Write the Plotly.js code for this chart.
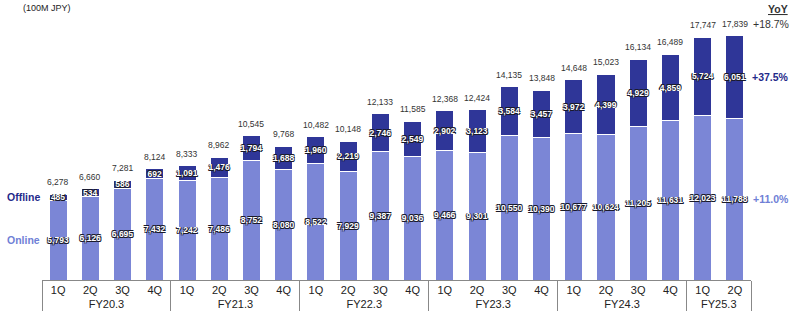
<!DOCTYPE html>
<html>
<head>
<meta charset="utf-8">
<script src="https://cdn.plot.ly/plotly-3.0.1.min.js"></script>
<style>html,body{margin:0;padding:0;background:#fff;}#chart{width:800px;height:325px;}</style>
</head>
<body>
<div id="chart"></div>
<script>
const fiscalYears = ["FY20.3","FY20.3","FY20.3","FY20.3","FY21.3","FY21.3","FY21.3","FY21.3","FY22.3","FY22.3","FY22.3","FY22.3","FY23.3","FY23.3","FY23.3","FY23.3","FY24.3","FY24.3","FY24.3","FY24.3","FY25.3","FY25.3"];
const quarters = ["1Q","2Q","3Q","4Q","1Q","2Q","3Q","4Q","1Q","2Q","3Q","4Q","1Q","2Q","3Q","4Q","1Q","2Q","3Q","4Q","1Q","2Q"];
const online = [5793,6126,6695,7432,7242,7486,8752,8080,8522,7929,9387,9036,9466,9301,10550,10390,10677,10624,11205,11631,12023,11788];
const offline = [485,534,586,692,1091,1476,1794,1688,1960,2219,2746,2549,2902,3123,3584,3457,3972,4399,4929,4859,5724,6051];
const totals = [6278,6660,7281,8124,8333,8962,10545,9768,10482,10148,12133,11585,12368,12424,14135,13848,14648,15023,16134,16489,17747,17839];
const yoyTotal = "+18.7%";
const yoyOffline = "+37.5%";
const yoyOnline = "+11.0%";

const fmt = v => v.toLocaleString("en-US");
const x = [fiscalYears, quarters];
const FONT = "Liberation Sans, Arial, sans-serif";
const inFont = {family: FONT, size: 8.5, color: "#ffffff", weight: "bold",
  shadow: "0.8px 0.8px 0.5px #1a1a2a, -0.8px -0.8px 0.5px #1a1a2a, 0.8px -0.8px 0.5px #1a1a2a, -0.8px 0.8px 0.5px #1a1a2a"};

const traces = [
  {type: "bar", name: "Online", x: x, y: online, width: 0.56, text: online.map(fmt), textposition: "inside", insidetextanchor: "middle",
   textangle: 0, constraintext: "none", textfont: inFont,
   marker: {color: "#7b86d6", line: {color: "#ffffff", width: 1}}, hoverinfo: "skip"},
  {type: "bar", name: "Offline", x: x, y: offline, width: 0.56, text: offline.map(fmt), textposition: "inside", insidetextanchor: "middle",
   textangle: 0, constraintext: "none", textfont: inFont,
   marker: {color: "#2f3698", line: {color: "#ffffff", width: 1}}, hoverinfo: "skip"}
];

const n = online.length - 1;
const totalAnns = totals.map((t, i) => ({
  xref: "x", yref: "y", x: i, y: t, xanchor: "center", yanchor: "bottom", yshift: 5, showarrow: false,
  text: fmt(t), font: {family: FONT, size: 8.5, color: "#333333"}
}));

const layout = {
  width: 800, height: 325,
  margin: {l: 42, r: 49, t: 10, b: 45},
  barmode: "stack",
  showlegend: false,
  paper_bgcolor: "#ffffff", plot_bgcolor: "#ffffff",
  font: {family: FONT, size: 11, color: "#222222"},
  xaxis: {type: "multicategory", range: [-0.5, 21.5], autorange: false, showline: true, linecolor: "#888888", linewidth: 1,
          showdividers: true, dividercolor: "#888888", dividerwidth: 1,
          ticks: "outside", ticklen: 8, tickwidth: 1, tickcolor: "#ffffff",
          tickfont: {family: FONT, size: 11, color: "#222222"}, fixedrange: true},
  yaxis: {range: [0, 19730], visible: false, showgrid: false, zeroline: false, fixedrange: true},
  annotations: totalAnns.concat([
    {xref: "paper", yref: "paper", x: -0.03, y: 1.033, xanchor: "left", yanchor: "top", showarrow: false,
     text: "(100M JPY)", font: {family: FONT, size: 9, color: "#222222"}},
    {xref: "paper", yref: "y", x: 0.0, y: online[0] + offline[0] / 2, xanchor: "right", yanchor: "middle", showarrow: false,
     text: "<b>Offline</b>", font: {family: FONT, size: 10.5, color: "#1f2a8a"}},
    {xref: "paper", yref: "y", x: 0.0, y: online[0] / 2, xanchor: "right", yanchor: "middle", showarrow: false,
     text: "<b>Online</b>", font: {family: FONT, size: 10.5, color: "#6f7fd6"}},
    {xref: "paper", yref: "paper", x: 1.055, y: 1.035, xanchor: "right", yanchor: "top", showarrow: false,
     text: "<b><u>YoY</u></b>", font: {family: FONT, size: 10.5, color: "#333333"}},
    {xref: "paper", yref: "y", x: 1.057, y: totals[n], xanchor: "right", yanchor: "bottom", yshift: 4, showarrow: false,
     text: yoyTotal, font: {family: FONT, size: 10.5, color: "#333333"}},
    {xref: "paper", yref: "y", x: 1.057, y: online[n] + offline[n] / 2, xanchor: "right", yanchor: "middle", showarrow: false,
     text: "<b>" + yoyOffline + "</b>", font: {family: FONT, size: 10.5, color: "#1f2a8a"}},
    {xref: "paper", yref: "y", x: 1.057, y: online[n] / 2, xanchor: "right", yanchor: "middle", showarrow: false,
     text: "<b>" + yoyOnline + "</b>", font: {family: FONT, size: 10.5, color: "#6f7fd6"}}
  ])
};

Plotly.newPlot("chart", traces, layout, {displayModeBar: false, staticPlot: true});
</script>
</body>
</html>
